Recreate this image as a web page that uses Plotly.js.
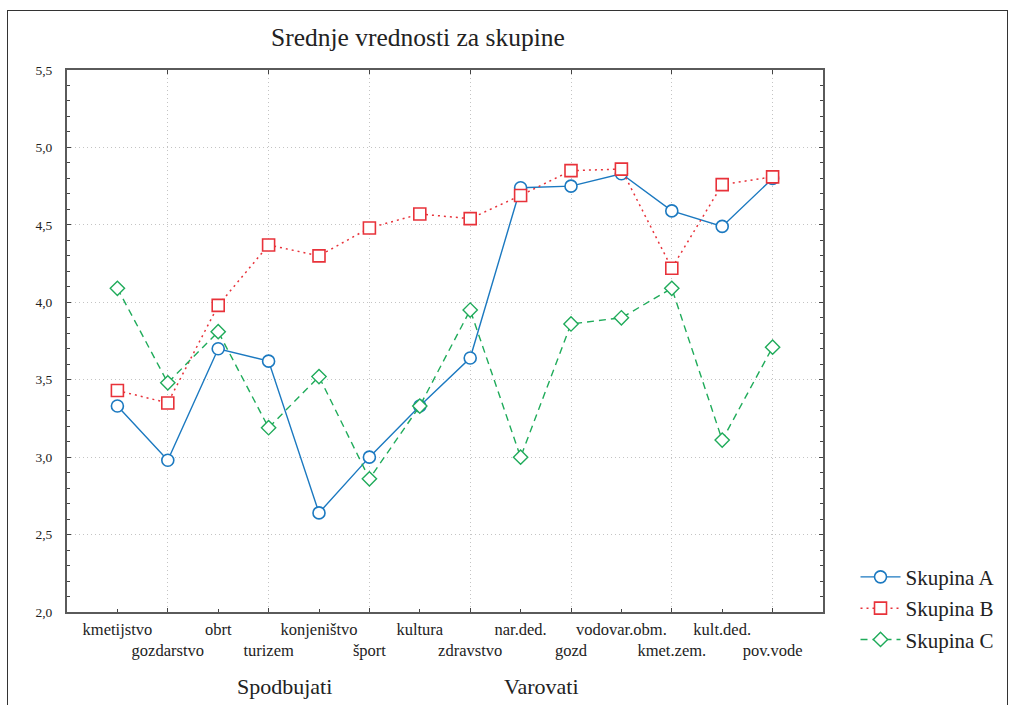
<!DOCTYPE html>
<html>
<head>
<meta charset="utf-8">
<script src="https://cdn.plot.ly/plotly-3.0.1.min.js"></script>
<style>
html,body{margin:0;padding:0;background:#fff;overflow:hidden;}
#chart{width:1012px;height:705px;position:absolute;left:0;top:0;}
#frame{position:absolute;left:7px;top:10px;width:999px;height:720px;border:1px solid #333;pointer-events:none;}
</style>
</head>
<body>
<div id="chart"></div>
<div id="frame"></div>
<script>
const categories = ['kmetijstvo','gozdarstvo','obrt','turizem','konjeništvo','šport','kultura','zdravstvo','nar.ded.','gozd','vodovar.obm.','kmet.zem.','kult.ded.','pov.vode'];
const skupinaA = [3.33, 2.98, 3.70, 3.62, 2.64, 3.00, 3.33, 3.64, 4.74, 4.75, 4.83, 4.59, 4.49, 4.80];
const skupinaB = [3.43, 3.35, 3.98, 4.37, 4.30, 4.48, 4.57, 4.54, 4.69, 4.85, 4.86, 4.22, 4.76, 4.81];
const skupinaC = [4.09, 3.48, 3.81, 3.19, 3.52, 2.86, 3.33, 3.95, 3.00, 3.86, 3.90, 4.09, 3.11, 3.71];
const seriesNames = ['Skupina A','Skupina B','Skupina C'];
const groupLabels = ['Spodbujati','Varovati'];
const titleText = 'Srednje vrednosti za skupine';

const idx = categories.map((c,i)=>i);
const tickText = categories.map((c,i)=> i%2===0 ? c : '<br>'+c);
const oddIdx = idx.filter(i=>i%2===1);
const serif = 'Liberation Serif, DejaVu Serif, serif';

const traces = [
  {x: idx, y: skupinaA, name: seriesNames[0], mode:'lines+markers', legendgroup:'a',
   line:{color:'#1b79c0', width:1.4, dash:'solid'},
   marker:{symbol:'circle', size:12, color:'#ffffff', line:{color:'#1b79c0', width:1.6}}},
  {x: idx, y: skupinaB, name: seriesNames[1], mode:'lines+markers', legendgroup:'b',
   line:{color:'#e8323a', width:1.5, dash:'2px,4px'},
   marker:{symbol:'square', size:12, color:'#ffffff', line:{color:'#e8323a', width:1.6}}},
  {x: idx, y: skupinaC, name: seriesNames[2], mode:'lines+markers', legendgroup:'c',
   line:{color:'#1fab5a', width:1.4, dash:'7px,5px'},
   marker:{symbol:'diamond', size:11, color:'#ffffff', line:{color:'#1fab5a', width:1.4}}}
];
// labels axis (overlay) carrying all category labels
traces.unshift({x:[0], y:[null], xaxis:'x2', yaxis:'y', showlegend:false, hoverinfo:'skip', mode:'markers'});

const layout = {
  width:1012, height:705,
  margin:{l:67, r:187, t:70, b:93},
  paper_bgcolor:'rgba(0,0,0,0)', plot_bgcolor:'#ffffff',
  separators:', ',
  font:{family:serif, color:'#222'},
  title:{text:titleText, font:{family:serif, size:25.5, color:'#222'},
         xref:'container', x:0.413, xanchor:'center', yref:'container', y:0.948, yanchor:'middle'},
  showlegend:true,
  legend:{x:1.043, xanchor:'left', y:0.102, yanchor:'top', traceorder:'grouped', tracegroupgap:1,
          itemwidth:40, font:{family:serif, size:21, color:'#222'}, bgcolor:'rgba(0,0,0,0)'},
  xaxis:{type:'linear', range:[-1,14], tickmode:'array', tickvals:oddIdx, showticklabels:false,
         ticks:'inside', ticklen:4, tickcolor:'#444', showgrid:true, gridcolor:'#c4c4c4', griddash:'1px,3px', gridwidth:1,
         zeroline:false, showline:true, linecolor:'#5a5a5a', linewidth:2, mirror:'ticks'},
  xaxis2:{type:'linear', range:[-1,14], overlaying:'x', anchor:'y', side:'bottom',
          tickmode:'array', tickvals:idx, ticktext:tickText, tickangle:0,
          ticks:'inside', ticklen:3, tickcolor:'#444', showgrid:false, zeroline:false, showline:false,
          tickfont:{family:serif, size:16.5, color:'#222'}, ticklabelstandoff:5},
  yaxis:{range:[2,5.5], dtick:0.5, tick0:2, tickformat:'.1f', ticks:'inside', ticklen:4, tickcolor:'#444',
         showgrid:true, gridcolor:'#c4c4c4', griddash:'1px,3px', gridwidth:1, zeroline:false,
         showline:true, linecolor:'#5a5a5a', linewidth:2, mirror:'ticks',
         minor:{dtick:0.1, tick0:2, ticks:'inside', ticklen:3, tickcolor:'#444', showgrid:false},
         tickfont:{family:serif, size:13.5, color:'#222'}, ticklabelstandoff:10},
  annotations:[
    {text:groupLabels[0], xref:'paper', yref:'paper', x:0.2876, y:-0.137, xanchor:'center', yanchor:'middle',
     showarrow:false, font:{family:serif, size:22, color:'#222'}},
    {text:groupLabels[1], xref:'paper', yref:'paper', x:0.628, y:-0.137, xanchor:'center', yanchor:'middle',
     showarrow:false, font:{family:serif, size:22, color:'#222'}}
  ]
};

Plotly.newPlot('chart', traces, layout, {displayModeBar:false, staticPlot:true});
</script>
</body>
</html>
